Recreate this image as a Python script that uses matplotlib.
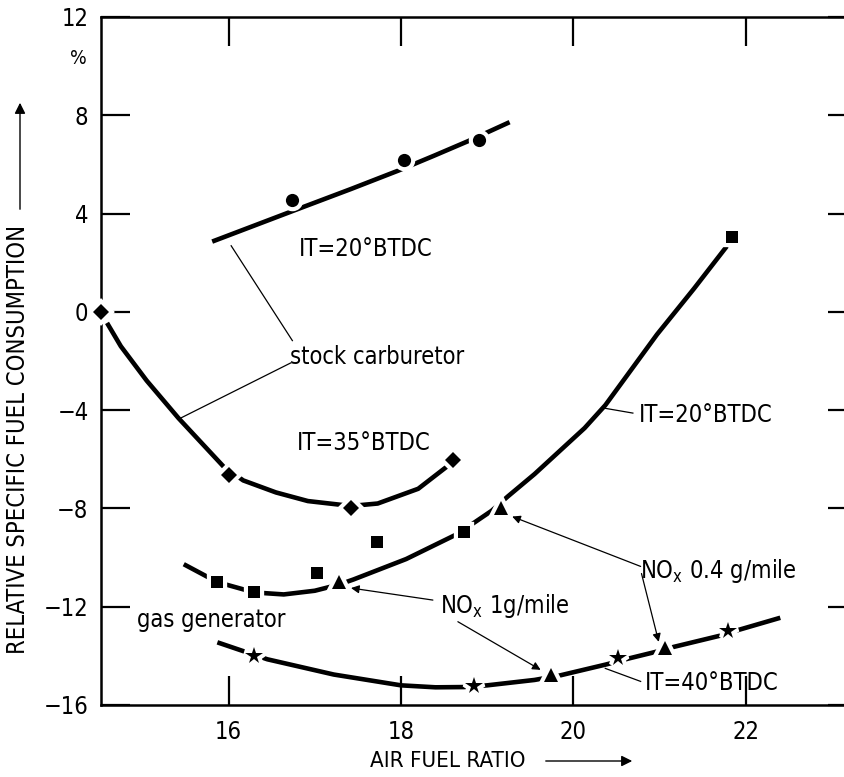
import matplotlib
matplotlib.use("Agg")
import matplotlib.pyplot as plt

plt.rcParams['font.family'] = ['DejaVu Sans']
plt.rcParams['font.stretch'] = 'condensed'
plt.rcParams['mathtext.default'] = 'regular'

# stock carburetor, IT=20 BTDC (circles)
circ_x = [16.74, 18.03, 18.90]
circ_y = [4.56, 6.2, 7.0]
circ_curve_x = [15.81, 16.74, 17.42, 17.97, 18.38, 18.78, 19.26]
circ_curve_y = [2.86, 4.1, 5.0, 5.75, 6.35, 6.95, 7.72]

# stock carburetor, IT=35 BTDC (diamonds)
dia_x = [14.52, 16.01, 17.42, 18.60]
dia_y = [0.0, -6.65, -8.0, -6.04]
dia_curve_x = [14.59, 14.75, 15.05, 15.42, 15.94, 16.17, 16.55, 16.92, 17.42, 17.73, 18.2, 18.55]
dia_curve_y = [-0.45, -1.4, -2.8, -4.33, -6.29, -6.86, -7.35, -7.7, -7.9, -7.8, -7.2, -6.25]

# gas generator, IT=20 BTDC (squares)
sq_x = [15.87, 16.30, 17.02, 17.72, 18.73, 21.84]
sq_y = [-11.01, -11.42, -10.64, -9.36, -8.95, 3.06]
sq_curve_x = [15.48, 15.87, 16.30, 16.64, 17.00, 17.28, 17.45, 18.06, 18.66, 19.05,
              19.24, 19.55, 20.13, 20.37, 20.97, 21.40, 21.78]
sq_curve_y = [-10.27, -11.0, -11.42, -11.5, -11.35, -11.1, -10.89, -10.06, -9.03, -8.1,
              -7.51, -6.6, -4.73, -3.8, -0.92, 0.95, 2.67]

# gas generator, IT=40 BTDC (stars)
star_x = [16.30, 18.85, 20.52, 21.79]
star_y = [-14.0, -15.22, -14.1, -12.98]
star_curve_x = [15.87, 16.45, 17.22, 18.00, 18.40, 18.73, 19.00, 19.55, 19.84, 20.38,
                20.65, 20.94, 21.17, 21.70, 21.92, 22.40]
star_curve_y = [-13.45, -14.14, -14.76, -15.2, -15.28, -15.27, -15.2, -14.98, -14.8, -14.35,
                -14.1, -13.85, -13.63, -13.18, -12.94, -12.45]

# NOx points (triangles)
tri_x = [17.28, 19.16, 19.74, 21.06]
tri_y = [-11.0, -8.0, -14.78, -13.67]

xticks = [16, 18, 20, 22]
yticks = [-16, -12, -8, -4, 0, 4, 8, 12]

fig = plt.figure(figsize=(8.44, 7.77), dpi=100)
ax = fig.add_axes([101/844, 72/777, 756/844, 688/777])
ax.set_xlim(14.52, 23.29)
ax.set_ylim(-16, 12)

lw = 3.3
for cx, cy in [(circ_curve_x, circ_curve_y), (dia_curve_x, dia_curve_y),
               (sq_curve_x, sq_curve_y), (star_curve_x, star_curve_y)]:
    ax.plot(cx, cy, color='black', lw=lw, solid_capstyle='butt',
            solid_joinstyle='round', zorder=2)

# white halo first, then the black marker on top
for xs, ys, m, ms in [(circ_x, circ_y, 'o', 9.5), (dia_x, dia_y, 'D', 8),
                      (sq_x, sq_y, 's', 8.5), (tri_x, tri_y, '^', 10),
                      (star_x, star_y, '*', 13)]:
    ax.plot(xs, ys, marker=m, markersize=ms, color='white', markeredgecolor='white',
            markeredgewidth=6, linestyle='none', zorder=3, clip_on=False)
    ax.plot(xs, ys, marker=m, markersize=ms, color='black', markeredgewidth=0,
            linestyle='none', zorder=4, clip_on=False)

fs = 17
ax.text(17.59, 2.57, 'IT=20°BTDC', fontsize=fs, ha='center', va='center')
ax.text(17.72, -1.83, 'stock carburetor', fontsize=fs, ha='center', va='center')
ax.text(17.57, -5.35, 'IT=35°BTDC', fontsize=fs, ha='center', va='center')
ax.text(21.53, -4.2, 'IT=20°BTDC', fontsize=fs, ha='center', va='center')
ax.text(21.68, -10.56, 'NO$_{x}$ 0.4 g/mile', fontsize=fs, ha='center', va='center')
ax.text(19.21, -11.96, 'NO$_{x}$ 1g/mile', fontsize=fs, ha='center', va='center')
ax.text(21.6, -15.1, 'IT=40°BTDC', fontsize=fs, ha='center', va='center')
ax.text(15.8, -12.53, 'gas generator', fontsize=fs, ha='center', va='center')
ax.text(14.26, 10.3, '%', fontsize=14, ha='center', va='center', clip_on=False)

thin = dict(color='black', lw=0.9)
ax.plot([16.74, 16.03], [-1.17, 2.69], **thin)
ax.plot([16.72, 15.44], [-2.08, -4.33], **thin)
ax.plot([20.69, 20.36], [-4.12, -3.92], **thin)
ax.plot([20.78, 20.37], [-15.04, -14.51], **thin)

arr = dict(arrowstyle='-|>', color='black', lw=0.9, mutation_scale=12, shrinkA=0, shrinkB=0)
ax.annotate('', xy=(19.29, -8.33), xytext=(20.78, -10.36), arrowprops=arr)
ax.annotate('', xy=(20.99, -13.43), xytext=(20.79, -10.65), arrowprops=arr)
ax.annotate('', xy=(17.42, -11.24), xytext=(18.37, -11.73), arrowprops=arr)
ax.annotate('', xy=(19.62, -14.57), xytext=(18.66, -12.61), arrowprops=arr)

ax.set_xticks(xticks)
ax.set_yticks(yticks)
ax.set_yticklabels([str(v).replace('-', '\u2212') for v in yticks])
ax.tick_params(direction='in', length=21, width=1.6, labelsize=fs,
               top=True, right=True, pad=9)
ax.tick_params(axis='x', pad=11)
for s in ax.spines.values():
    s.set_linewidth(1.8)

fig.text(0.531, 0.021, 'AIR FUEL RATIO', fontsize=16, ha='center', va='center')
fig.patches.append(matplotlib.patches.FancyArrowPatch(
    (543/844, 1 - 761/777), (635/844, 1 - 761/777), transform=fig.transFigure,
    arrowstyle='-|>', mutation_scale=16, lw=1.0, color='black'))
fig.text(0.021, 0.434, 'RELATIVE SPECIFIC FUEL CONSUMPTION', fontsize=17,
         rotation=90, ha='center', va='center')
fig.patches.append(matplotlib.patches.FancyArrowPatch(
    (20/844, 1 - 212/777), (20/844, 1 - 100/777), transform=fig.transFigure,
    arrowstyle='-|>', mutation_scale=16, lw=1.0, color='black'))

fig.savefig('out.png', dpi=100)
